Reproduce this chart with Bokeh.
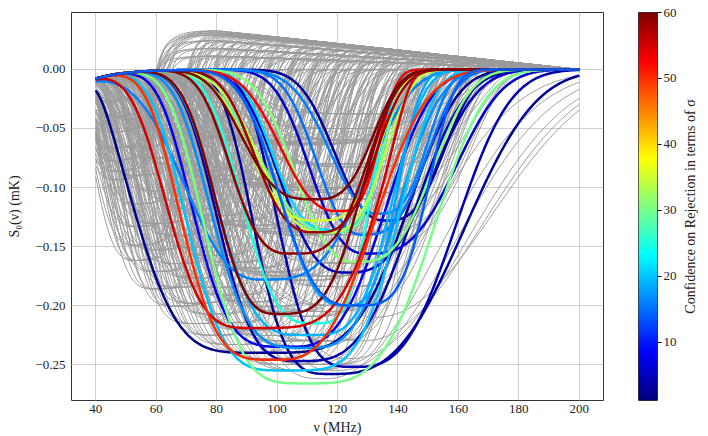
import numpy as np
from bokeh.plotting import figure
from bokeh.layouts import row
from bokeh.models import ColumnDataSource, Range1d, FixedTicker, LinearColorMapper
from bokeh.transform import linear_cmap
from bokeh.embed import file_html
from bokeh.resources import INLINE

# ---------------- data ----------------
x_ticks = [40, 60, 80, 100, 120, 140, 160, 180, 200]
y_ticks = [0.0, -0.05, -0.10, -0.15, -0.20, -0.25]
y_tick_labels = ["0.00", "\u22120.05", "\u22120.10", "\u22120.15", "\u22120.20", "\u22120.25"]
cbar_ticks = [10, 20, 30, 40, 50, 60]
sigma_low, sigma_high = 1.2, 60.0
freq_start, freq_end = 40.0, 200.0
start_value = -0.0078          # common value of the curves at 40 MHz

# highlighted (coloured) models: sigma, frequency of minimum, depth,
# left near-zero / half-depth frequencies, right half-depth / near-zero frequencies
c_sigma  = [2,    3,    4,    5,    6,    3,    4,    8,    16,   15,   17,   16,   20,   19,   21,   18,   25,   30,   29,   31,   34,   35,   55,   53,   50,   60,   59,   58,   60,   14]
c_numin  = [96,   118,  108,  123,  130,  136,  126,  104,  95,   128,  110,  133,  103,  110,  118,  122,  112,  110,  118,  126,  115,  112,  92,   120,  100,  100,  105,  113,  112,  125]
c_depth  = [.240, .258, .247, .172, .156, .128, .252, .235, .178, .140, .236, .122, .255, .225, .136, .200, .215, .266, .138, .163, .138, .128, .219, .120, .246, .207, .156, .138, .110, .200]
c_zero_l = [38,   76,   62,   80,   92,   100,  84,   55,   42,   95,   60,   92,   52,   62,   82,   80,   70,   58,   68,   85,   72,   70,   45,   80,   51,   62,   68,   75,   70,   80]
c_half_l = [53,   92,   80,   100,  110,  118,  100,  72,   68,   112,  78,   116,  70,   80,   98,   100,  88,   76,   93,   105,  93,   90,   63,   100,  68,   79,   84,   92,   88,   100]
c_half_r = [143,  163,  145,  152,  160,  156,  160,  136,  130,  150,  140,  150,  140,  138,  134,  140,  131,  152,  135,  152,  136,  134,  134,  134,  133,  128,  130,  133,  132,  150]
c_zero_r = [168,  200,  172,  176,  184,  172,  188,  160,  153,  166,  162,  162,  158,  154,  143,  152,  142,  178,  145,  172,  150,  147,  146,  143,  160,  145,  146,  148,  146,  163]

# background (grey) models: frequency of minimum, largest depth, side widths
grey_min_nu    = [50,  56,  62,  68,  74,   80,   86,   92,  98,   104,  110,  116,  122, 128]
grey_max_depth = [.09, .16, .185, .20, .215, .225, .233, .24, .245, .25, .255, .25, .20, .15]
grey_left_w    = [11,  13,  15,  16,  18,   20,   22,   24,  25,   27,   29,   31,   33,  35]
grey_right_w   = [9,   12,  14,  16,  18,   19,   20,   21,  22,   23,   24,   25,   26,  28]
grey_depth_frac  = [0.25, 0.4, 0.55, 0.7, 0.82, 0.92, 1.0]
grey_width_scale = [0.85, 1.0, 1.15]
grey_emission    = [1.0, 0.9, 0.0, 0.75, 0.55, 0.35, 0.95]
emission_peak = 0.033

# background models that have not recovered by 200 MHz
late_numin  = [112, 116, 120, 124, 128, 132]
late_depth  = [.25, .262, .255, .245, .23, .21]
late_zero_l = [60, 66, 72, 78, 84, 90]
late_half_l = [80, 86, 92, 98, 104, 110]
late_half_r = [152, 158, 163, 168, 172, 176]
late_zero_r = [206, 212, 218, 226, 234, 242]

# ---------------- build curves ----------------
nu = np.linspace(freq_start, freq_end, 321)
early = start_value * np.exp(-(nu - freq_start) / 10.0)


def gg(d, w, p):
    return np.exp(-0.5 * np.abs(d / w) ** p)


def side(d, h, z):
    """profile of one side from its half-depth and near-zero distances"""
    p = np.clip(np.log(7.824 / 1.3863) / np.log(z / h), 2.2, 4.5)
    w = h / 1.3863 ** (1.0 / p)
    base = gg(d, w, p)
    d_nat = h * 5.644 ** (1.0 / p)
    if z < d_nat - 1:
        base = base / (1.0 + np.exp((d - z + 3.0) / 2.5))
    return base


def anchored(numin, depth, zl, hl, hr, zr):
    d = nu - numin
    left = side(-d, numin - hl, numin - zl)
    right = side(d, hr - numin, zr - numin)
    return early - depth * np.where(d < 0, left, right)


grey_xs, grey_ys = [], []
idx = 0
for i, n0 in enumerate(grey_min_nu):
    for fr in grey_depth_frac:
        for ws in grey_width_scale:
            wl = grey_left_w[i] * ws
            wr = grey_right_w[i] * (2.0 - ws)
            d = nu - n0
            y = early - grey_max_depth[i] * fr * np.where(d < 0, gg(d, wl, 4), gg(d, wr, 4))
            e = grey_emission[idx % len(grey_emission)]
            env = emission_peak * e * np.minimum(1.0, (freq_end - nu) / 120.0)
            step = 1.0 / (1.0 + np.exp(-(nu - (n0 + 1.45 * wr)) / 3.0))
            grey_xs.append(nu)
            grey_ys.append(y + env * step)
            idx += 1
for k in range(len(late_numin)):
    grey_xs.append(nu)
    grey_ys.append(anchored(late_numin[k], late_depth[k], late_zero_l[k],
                            late_half_l[k], late_half_r[k], late_zero_r[k]))

col_xs, col_ys = [], []
for k in range(len(c_sigma)):
    col_xs.append(nu)
    col_ys.append(anchored(c_numin[k], c_depth[k], c_zero_l[k], c_half_l[k],
                           c_half_r[k], c_zero_r[k]))


def jet(n=256):
    out = []
    for x in np.linspace(0, 1, n):
        r = np.clip(min(4 * x - 1.5, -4 * x + 4.5), 0, 1)
        g = np.clip(min(4 * x - 0.5, -4 * x + 3.5), 0, 1)
        b = np.clip(min(4 * x + 0.5, -4 * x + 2.5), 0, 1)
        out.append("#%02x%02x%02x" % (int(r * 255), int(g * 255), int(b * 255)))
    return out


palette = jet()
FONT = "Liberation Serif"
TXT = "#222222"

# ---------------- main figure ----------------
p = figure(frame_width=532, frame_height=388, x_range=Range1d(32, 208),
           y_range=Range1d(-0.2805, 0.0483), toolbar_location=None,
           output_backend="svg", min_border_left=71, min_border_right=5,
           min_border_top=12, min_border_bottom=36)

p.multi_line(xs=grey_xs, ys=grey_ys, line_color="#9c9c9c", line_width=1.0)
csrc = ColumnDataSource(dict(xs=col_xs, ys=col_ys, sigma=c_sigma))
p.multi_line(xs="xs", ys="ys", source=csrc, line_width=2.5,
             line_color=linear_cmap("sigma", palette, sigma_low, sigma_high))

p.xaxis.ticker = FixedTicker(ticks=x_ticks)
p.yaxis.ticker = FixedTicker(ticks=y_ticks)
p.yaxis.major_label_overrides = {t: s for t, s in zip(y_ticks, y_tick_labels)}
p.xaxis.axis_label = "\u03bd (MHz)"
p.yaxis.axis_label = "S\u2080(\u03bd) (mK)"
for ax in (p.xaxis[0], p.yaxis[0]):
    ax.axis_line_color = None
    ax.major_tick_out = 0
    ax.major_tick_in = 0
    ax.minor_tick_line_color = None
    ax.major_label_text_font = FONT
    ax.major_label_text_font_size = "13px"
    ax.major_label_text_color = TXT
    ax.axis_label_text_font = FONT
    ax.axis_label_text_font_size = "14px"
    ax.axis_label_text_font_style = "normal"
    ax.axis_label_text_color = TXT
p.xaxis.major_label_standoff = 4
p.xaxis.axis_label_standoff = 4
p.yaxis.major_label_standoff = 6
p.yaxis.axis_label_standoff = 10
p.grid.grid_line_color = "#cfcfcf"
p.grid.grid_line_width = 1
p.outline_line_color = "#333333"
p.outline_line_width = 1

# ---------------- colour bar ----------------
mapper = LinearColorMapper(palette=palette, low=sigma_low, high=sigma_high)
cb = figure(frame_width=19, frame_height=388, x_range=Range1d(0, 1),
            y_range=Range1d(sigma_low, sigma_high), y_axis_location="right",
            toolbar_location=None, output_backend="svg", min_border_left=30,
            min_border_right=20, min_border_top=12, min_border_bottom=36)
cb.image(image=[np.linspace(sigma_low, sigma_high, 256).reshape(256, 1)], x=0,
         y=sigma_low, dw=1, dh=sigma_high - sigma_low, color_mapper=mapper)
cb.xaxis.visible = False
cb.grid.visible = False
cb.outline_line_color = "#333333"
ax = cb.yaxis[0]
ax.ticker = FixedTicker(ticks=cbar_ticks)
ax.axis_line_color = None
ax.major_tick_in = 0
ax.major_tick_out = 4
ax.minor_tick_line_color = None
ax.major_label_standoff = 2
ax.major_label_text_font = FONT
ax.major_label_text_font_size = "13px"
ax.major_label_text_color = TXT

# colour-bar title: a bare left axis of a thin strip, so it reads bottom-to-top
lab = figure(frame_width=1, frame_height=388, x_range=Range1d(0, 1),
             y_range=Range1d(0, 1), toolbar_location=None, output_backend="svg",
             min_border_left=12, min_border_right=0, min_border_top=12,
             min_border_bottom=36)
lab.xaxis.visible = False
lab.grid.visible = False
lab.outline_line_color = None
la = lab.yaxis[0]
la.ticker = FixedTicker(ticks=[])
la.axis_line_color = None
la.major_tick_line_color = None
la.minor_tick_line_color = None
la.major_label_standoff = 0
la.major_label_text_font_size = "0px"
la.axis_label = "Confidence on Rejection in terms of \u03c3"
la.axis_label_standoff = 0
la.axis_label_text_font = FONT
la.axis_label_text_font_size = "14px"
la.axis_label_text_font_style = "normal"
la.axis_label_text_color = TXT

layout = row(p, cb, lab)
open("out.html", "w").write(file_html(layout, INLINE))
